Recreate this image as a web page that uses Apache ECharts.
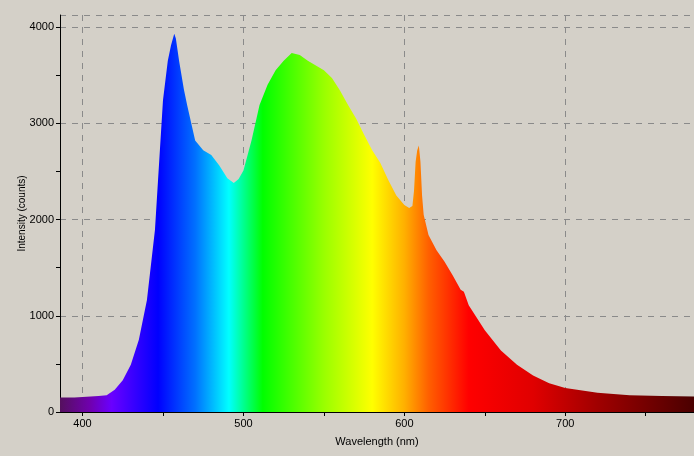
<!DOCTYPE html>
<html><head><meta charset="utf-8">
<script src="https://cdn.jsdelivr.net/npm/echarts@6/dist/echarts.min.js"></script>
<style>html,body{margin:0;padding:0;background:#d4d0c8}#c{width:694px;height:456px}</style>
</head><body><div id="c"></div>
<script>
const wavelengths = [386,395,405,410,415,420,425,430,435,440,445,450,453,455,457,458,460,463,465,470,475,480,485,490,494,497,500,505,510,515,520,525,530,535,540,545,550,555,560,565,570,575,580,585,590,595,600,603,605,606,607,608,609,610,611,612,615,620,625,630,635,637,640,645,650,660,670,680,690,700,720,740,760,780];
const intensity =   [150,150,160,165,175,230,330,490,750,1160,1890,3240,3650,3810,3930,3880,3650,3350,3190,2820,2720,2670,2560,2430,2380,2420,2510,2820,3190,3400,3550,3650,3730,3710,3650,3600,3550,3470,3340,3190,3050,2880,2720,2590,2410,2250,2150,2120,2140,2300,2600,2720,2770,2600,2250,2050,1840,1680,1560,1420,1270,1250,1110,980,850,640,490,380,300,250,200,175,165,160];
const xMajor = [400,500,600,700];
const xMinor = [400,450,500,550,600,650,700,750];
const yMajor = [0,1000,2000,3000,4000];
const yMinor = [0,500,1000,1500,2000,2500,3000,3500,4000];
const XMIN=386, XMAX=780, YMAX=4125;
const off = l => (l-XMIN)/(XMAX-XMIN);
const stops = [[386,'#55105e'],[405,'#7000b0'],[418,'#6a00ff'],[447,'#0000ff'],[470,'#0070ff'],[491,'#00ffff'],[500,'#00ff90'],[512,'#00ff00'],[550,'#99ff00'],[580,'#ffff00'],[600,'#ffb000'],[615,'#ff6000'],[640,'#ff0000'],[680,'#e00000'],[720,'#a00000'],[780,'#4a0000']];
const chart = echarts.init(document.getElementById('c'));
const axisFont = {color:'#000',fontFamily:'Liberation Sans',fontSize:11};
const plain = v => String(v);
chart.setOption({
  backgroundColor:'#d4d0c8',
  animation:false,
  grid:[{left:60,right:0,top:15,bottom:44,containLabel:false,outerBoundsMode:'none'}],
  xAxis:[{type:'value',min:XMIN,max:XMAX,
    name:'Wavelength (nm)',nameLocation:'middle',nameGap:24,nameMoveOverlap:false,nameTextStyle:axisFont,
    axisLine:{lineStyle:{color:'#000'}},
    axisTick:{customValues:xMinor,length:4,lineStyle:{color:'#000'}},
    axisLabel:{customValues:xMajor,...axisFont,margin:6,formatter:plain},
    splitLine:{show:false}},
   {type:'value',min:XMIN,max:XMAX,position:'bottom',axisLine:{show:false},axisTick:{show:false},
    axisLabel:{show:false,customValues:xMajor},
    splitLine:{show:true,customValues:xMajor,lineStyle:{color:'#8a8a8a',type:[6,6]}}}],
  yAxis:[{type:'value',min:0,max:YMAX,
    name:'Intensity (counts)',nameLocation:'middle',nameGap:33,nameMoveOverlap:false,nameTextStyle:{...axisFont,fontSize:10},
    axisLine:{show:true,lineStyle:{color:'#000'}},
    axisTick:{show:true,customValues:yMinor,length:4,lineStyle:{color:'#000'}},
    axisLabel:{customValues:yMajor,...axisFont,margin:6,formatter:plain},
    splitLine:{show:false}},
   {type:'value',min:0,max:YMAX,position:'left',axisLine:{show:false},axisTick:{show:false},
    axisLabel:{show:false,customValues:yMajor},
    splitLine:{show:true,customValues:yMajor,lineStyle:{color:'#8a8a8a',type:[6,6]}}}],
  series:[{type:'line',xAxisIndex:0,yAxisIndex:0,symbol:'none',
    data:wavelengths.map((w,i)=>[w,intensity[i]]),
    lineStyle:{width:0},
    areaStyle:{opacity:1,color:new echarts.graphic.LinearGradient(0,0,1,0,stops.map(s=>({offset:off(s[0]),color:s[1]})))}}]
});
</script></body></html>
